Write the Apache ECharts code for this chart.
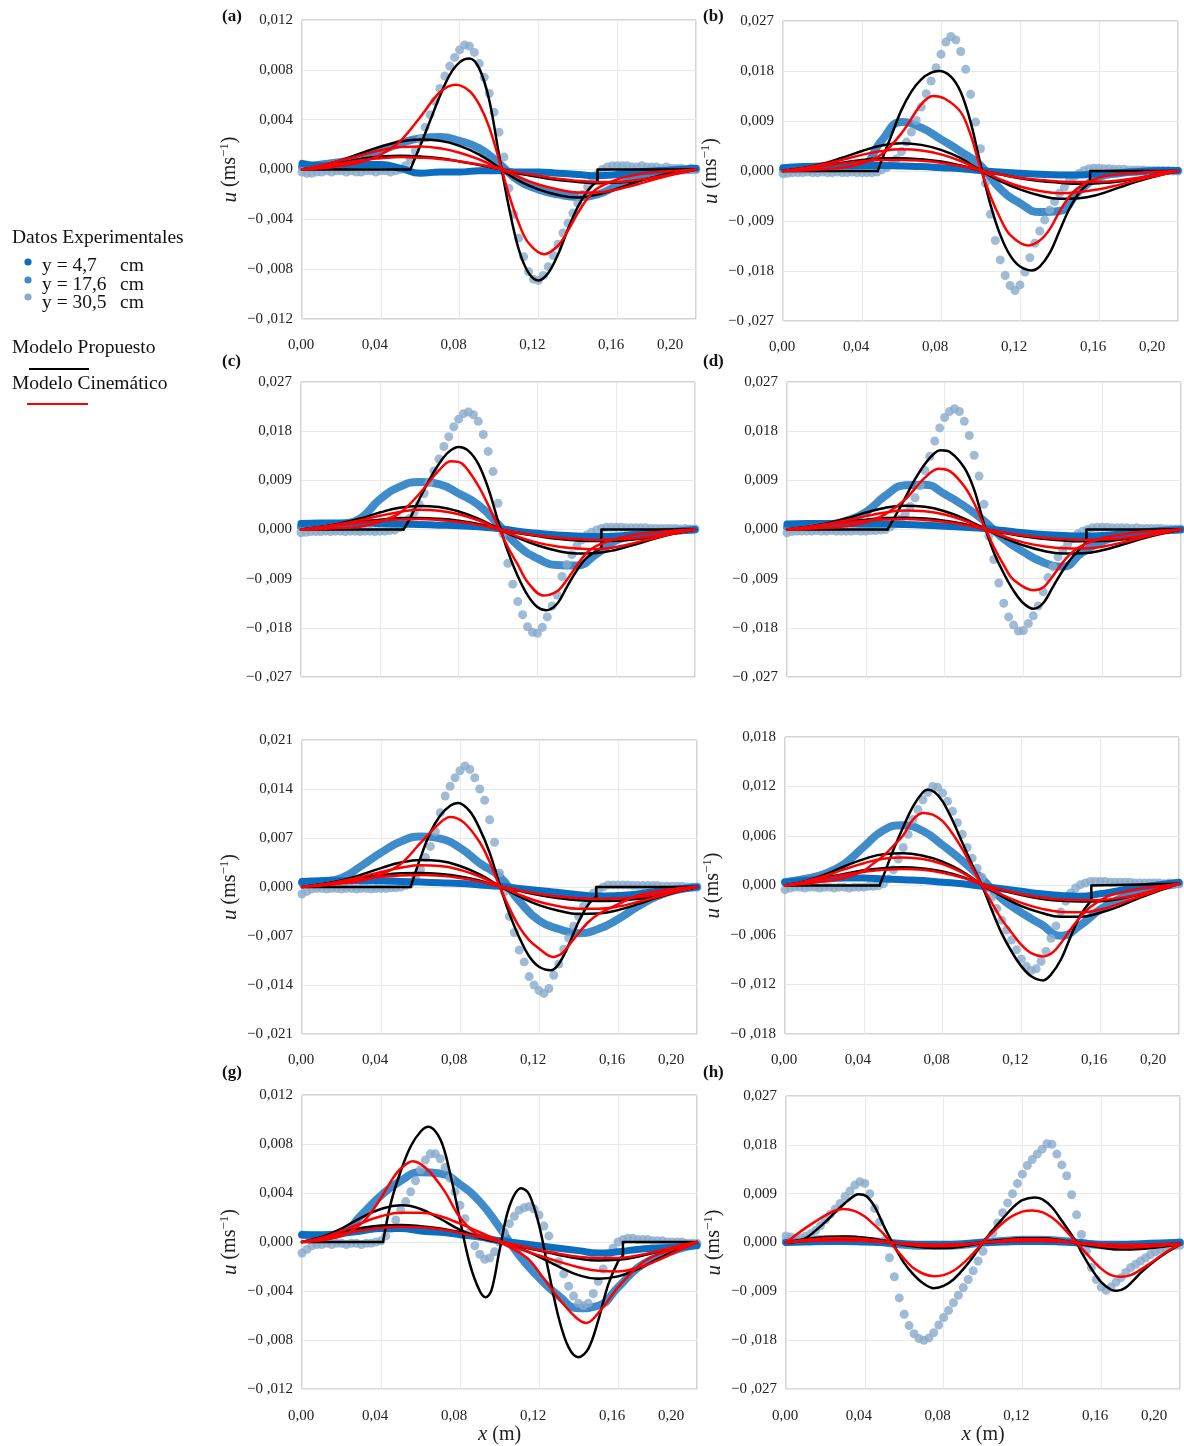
<!DOCTYPE html>
<html><head><meta charset="utf-8">
<script src="https://cdn.jsdelivr.net/npm/echarts@6/dist/echarts.min.js"></script>
<style>html,body{margin:0;padding:0;background:#fff}#c{width:1184px;height:1446px}</style>
</head><body><div id="c"></div>
<script>
// x in cm (labels shown in m), u in 1e-3 m/s (labels shown in m/s)
const XS = [0,0.25,0.5,0.75,1,1.25,1.5,1.75,2,2.25,2.5,2.75,3,3.25,3.5,3.75,4,4.25,4.5,4.75,5,5.25,5.5,5.75,6,6.25,6.5,6.75,7,7.25,7.5,7.75,8,8.25,8.5,8.75,9,9.25,9.5,9.75,10,10.25,10.5,10.75,11,11.25,11.5,11.75,12,12.25,12.5,12.75,13,13.25,13.5,13.75,14,14.25,14.5,14.75,15,15.25,15.5,15.75,16,16.25,16.5,16.75,17,17.25,17.5,17.75,18,18.25,18.5,18.75,19,19.25,19.5,19.75,20];
const XL = [0,1,2,3,4,5,6,7,8,9,10,11,12,13,14,15,16,17,18,19,20];
const PANEL_KEYS = ['a','b','c','d','e','f','g','h'];
const Y_MAX = {a:12,b:27,c:27,d:27,e:21,f:18,g:12,h:27};
const Y_STEP = {a:4,b:9,c:9,d:9,e:7,f:6,g:4,h:9};

// ---------- (a) ----------
const a_y47 = [0.5,0.3,0.3,0.4,0.4,0.1,-0.3,-0.2,-0.2,-0.1,-0.1,-0.2,-0.2,-0.3,-0.4,-0.5,-0.4,-0.2,-0.1,0.0,0.1];
const a_y176 = [0.2,0.4,0.6,0.9,1.5,2.1,2.5,2.6,2.3,1.7,0.5,-0.9,-1.6,-2.0,-2.2,-2.0,-1.3,-0.7,-0.3,-0.1,0.0];
const a_y305 = [-0.2,-0.3,-0.3,-0.2, -0.2,-0.1,-0.2,-0.1, -0.1,-0.2,-0.1,-0.2, -0.2,-0.1,-0.1,-0.2, -0.1,-0.1,-0.2,-0.1,
  0.0,0.3,0.8,1.5, 2.4,3.4,4.4,5.5, 6.5,7.5,8.3,9.0, 9.6,10.0,9.9,9.4, 8.5,7.4,6.1,4.6, 3.0,1.0,-1.5,-3.6,
  -5.5,-7.0,-8.2,-8.8, -8.9,-8.5,-7.8,-6.9, -6.0,-5.1,-4.3,-3.5, -2.7,-2.0,-1.4,-0.9, -0.4,0.0,0.2,0.3,
  0.3,0.3,0.3,0.2, 0.2,0.3,0.2,0.2, 0.2,0.1,0.2,0.1, 0.1,0.1,0.0,0.1, 0.0];
const a_prop305 = [[0,0],[5.5,0],[6.0,1.9],[6.5,3.9],[7.0,5.9],[7.5,7.6],[8.0,8.6],[8.5,8.9],[9.0,8.1],[9.5,5.6],[10.0,1.2],[10.5,-3.0],[11.0,-6.4],[11.5,-8.3],[12.0,-8.9],[12.5,-8.3],[13.0,-6.8],[13.5,-4.8],[14.0,-3.0],[14.5,-1.7],[15.0,-0.9],[15.0,0],[20,0]];
const a_prop176 = [0,0.3,0.75,1.3,1.85,2.25,2.4,2.3,1.9,1.2,0.15,-0.9,-1.6,-2.05,-2.25,-2.0,-1.55,-1.0,-0.55,-0.25,0];
const a_prop47 = [0,0.25,0.55,0.85,1.05,1.1,1.05,0.9,0.65,0.35,0.05,-0.3,-0.6,-0.85,-1.0,-1.1,-1.05,-0.9,-0.6,-0.3,0];
const a_cin305 = [[0,0],[1,0.1],[2,0.3],[3,0.6],[4,1.2],[5,2.3],[6,4.2],[7,6.2],[7.8,6.8],[8.5,6.3],[9,5.2],[9.5,3.4],[10,0.8],[10.5,-2.0],[11,-4.3],[11.5,-5.9],[12.3,-6.8],[13,-6.1],[13.5,-4.9],[14,-3.5],[14.5,-2.3],[15,-1.5],[16,-0.8],[17,-0.4],[18,-0.2],[19,-0.1],[20,0]];
const a_cin176 = [0,0.35,0.75,1.15,1.55,1.8,1.85,1.7,1.35,0.8,0.1,-0.6,-1.2,-1.6,-1.85,-1.85,-1.6,-1.2,-0.75,-0.35,0];
const a_cin47 = [0,0.25,0.5,0.75,0.9,1.0,0.95,0.85,0.65,0.4,0.05,-0.25,-0.5,-0.75,-0.9,-1.0,-1.0,-0.85,-0.6,-0.3,0];

// ---------- (b) ----------
const b_y47 = [0.6,0.8,0.9,1.0,1.0,1.0,0.9,0.8,0.6,0.4,0.1,-0.2,-0.4,-0.6,-0.7,-0.7,-0.5,-0.3,-0.1,0.1,0.1];
const b_y176 = [0.3,0.3,0.4,0.6,1.0,5.5,8.8,7.8,5.7,3.5,1.0,-3.2,-5.8,-7.4,-7.2,-3.6,-1.1,-0.4,-0.1,0.0,0.0];
const b_y305 = [-0.5,-0.4,-0.3,-0.3, -0.3,-0.2,-0.3,-0.3, -0.2,-0.3,-0.3,-0.2, -0.3,-0.3,-0.2,-0.3, -0.3,-0.3,-0.3,-0.2,
  0.2,0.6,1.2,2.2, 3.5,5.2,7.0,9.1, 11.5,13.9,16.2,18.6, 21.0,23.2,24.2,23.6, 21.5,18.3,13.8,8.8, 4.0,-2.2,-7.8,-12.5,
  -16.0,-18.8,-20.6,-21.5, -20.5,-18.2,-15.6,-13.0, -10.8,-8.8,-7.0,-5.5, -4.0,-2.9,-1.8,-1.0, -0.4,0.1,0.4,0.5,
  0.5,0.4,0.4,0.3, 0.3,0.3,0.2,0.2, 0.2,0.2,0.1,0.1, 0.1,0.1,0.1,0.0, 0.0];
const b_prop305 = [[0,0],[4.8,0],[5.0,2.0],[5.5,6.5],[6.0,11.0],[6.5,14.3],[7.0,16.5],[7.5,17.7],[7.9,18.0],[8.5,17.0],[9.0,14.2],[9.5,8.8],[10.0,1.2],[10.5,-6.0],[11.0,-11.5],[11.5,-15.2],[12.0,-17.2],[12.6,-17.9],[13.0,-17.2],[13.5,-14.8],[14.0,-10.8],[14.5,-6.8],[15.0,-3.9],[15.55,-2.0],[15.55,0],[20,0]];
const b_prop176 = [0,0.5,1.3,2.4,3.6,4.6,5.0,4.7,3.8,2.3,0.1,-1.8,-3.3,-4.4,-5.0,-4.9,-4.2,-3.0,-1.8,-0.8,0];
const b_prop47 = [0,0.5,1.0,1.5,2.0,2.3,2.3,2.1,1.7,1.0,0.1,-0.6,-1.3,-1.8,-2.1,-2.3,-2.2,-1.9,-1.3,-0.6,0];
const b_cin305 = [[0,0],[1,0.1],[2,0.3],[3,0.6],[4,1.4],[5,3.0],[6,6.8],[7,12.0],[7.6,13.5],[8.2,13.0],[9,10.6],[9.5,6.5],[10,0.5],[10.5,-4.5],[11,-8.5],[11.5,-11.5],[12.4,-13.4],[13,-12.5],[13.5,-10.5],[14,-7.3],[14.5,-4.6],[15,-2.9],[16,-1.2],[17,-0.6],[18,-0.3],[19,-0.1],[20,0]];
const b_cin176 = [0,0.5,1.2,2.0,2.9,3.6,3.9,3.7,3.0,1.8,0.1,-1.5,-2.8,-3.6,-4.0,-3.8,-3.3,-2.5,-1.6,-0.8,0];
const b_cin47 = [0,0.45,0.9,1.35,1.75,2.0,2.0,1.85,1.5,0.9,0.1,-0.6,-1.2,-1.6,-1.9,-2.0,-1.95,-1.7,-1.2,-0.6,0];

// ---------- (c) ----------
const c_y47 = [1.1,1.2,1.2,1.2,1.1,1.0,0.9,0.8,0.7,0.5,0.2,-0.3,-0.7,-1.0,-1.2,-1.3,-1.2,-0.9,-0.6,-0.3,0.0];
const c_y176 = [0.5,0.7,1.0,2.0,5.5,7.8,8.7,8.3,6.6,4.5,1.0,-2.9,-5.3,-6.5,-6.6,-4.5,-2.0,-1.1,-0.5,-0.2,0.0];
const c_y305 = [-0.6,-0.5,-0.4,-0.4, -0.4,-0.3,-0.4,-0.3, -0.3,-0.4,-0.3,-0.3, -0.4,-0.3,-0.3,-0.4, -0.3,-0.3,-0.2,-0.1,
  0.3,1.0,2.0,3.2, 4.6,6.6,8.6,10.7, 12.9,15.2,17.0,18.8, 20.2,21.2,21.5,21.0, 19.8,17.4,14.3,10.6, 4.8,-0.8,-6.2,-10.0,
  -13.2,-15.6,-17.8,-18.8, -19.0,-17.9,-16.0,-14.0, -12.0,-8.6,-6.4,-4.6, -3.0,-1.9,-1.0,-0.5, -0.1,0.2,0.4,0.4,
  0.4,0.4,0.3,0.3, 0.3,0.3,0.3,0.2, 0.2,0.2,0.2,0.2, 0.2,0.1,0.2,0.1, 0.1];
const c_prop305 = [[0,0],[5.2,0],[5.5,1.8],[6.0,5.5],[6.5,9.0],[7.0,12.0],[7.5,14.2],[8.0,15.1],[8.5,14.4],[9.0,12.0],[9.5,7.6],[10.0,1.6],[10.5,-4.0],[11.0,-8.5],[11.5,-12.0],[12.0,-14.2],[12.45,-14.8],[13.0,-13.6],[13.5,-10.5],[14.0,-7.5],[14.5,-5.2],[15.25,-3.4],[15.25,0],[20,0]];
const c_prop176 = [0,0.4,1.1,2.0,3.1,4.0,4.3,4.1,3.3,2.0,0.2,-1.5,-2.9,-3.9,-4.4,-4.3,-3.7,-2.7,-1.6,-0.7,0];
const c_prop47 = [0,0.45,0.95,1.4,1.8,2.1,2.1,1.95,1.6,1.0,0.1,-0.6,-1.2,-1.7,-2.0,-2.1,-2.05,-1.8,-1.3,-0.6,0];
const c_cin305 = [[0,0],[1,0.1],[2,0.3],[3,0.5],[4,1.4],[5,3.0],[6,6.5],[7,10.8],[7.6,12.5],[8.2,12.0],[9,8.0],[9.5,4.5],[10,0.6],[10.5,-3.2],[11,-6.4],[11.5,-9.6],[12.3,-12.1],[13,-11.3],[13.5,-9.2],[14,-6.6],[14.5,-4.3],[15,-3.0],[16,-1.7],[17,-0.9],[18,-0.5],[19,-0.2],[20,0]];
const c_cin176 = [0,0.45,1.0,1.7,2.5,3.2,3.6,3.45,2.8,1.7,0.15,-1.3,-2.4,-3.1,-3.5,-3.6,-3.2,-2.4,-1.5,-0.7,0];
const c_cin47 = [0,0.4,0.85,1.25,1.6,1.85,1.9,1.75,1.4,0.85,0.1,-0.55,-1.1,-1.5,-1.75,-1.9,-1.85,-1.6,-1.15,-0.55,0];

// ---------- (d) ----------
const d_y47 = [1.0,1.1,1.1,1.1,1.0,1.0,0.9,0.8,0.6,0.4,0.2,-0.2,-0.6,-0.9,-1.1,-1.2,-1.1,-0.8,-0.5,-0.2,0.0];
const d_y176 = [0.4,0.5,0.8,1.6,3.2,6.2,8.1,8.2,6.5,4.3,1.6,-1.7,-4.1,-6.0,-6.8,-4.2,-2.2,-1.2,-0.6,-0.2,0.0];
const d_y305 = [-0.6,-0.4,-0.3,-0.3, -0.3,-0.3,-0.2,-0.3, -0.3,-0.2,-0.3,-0.3, -0.3,-0.3,-0.2,-0.3, -0.3,-0.2,-0.2,-0.1,
  0.0,0.5,1.0,1.9, 2.9,4.2,5.8,8.0, 10.8,13.4,16.2,18.6, 20.5,21.6,22.1,21.6, 19.8,17.2,13.6,9.8, 4.6,-1.2,-5.5,-9.8,
  -13.5,-16.0,-17.5,-18.6, -18.5,-17.2,-15.8,-14.0, -11.4,-8.8,-6.8,-5.0, -3.7,-2.7,-1.7,-0.8, -0.3,0.0,0.3,0.4,
  0.4,0.4,0.3,0.3, 0.3,0.3,0.2,0.3, 0.2,0.2,0.2,0.2, 0.2,0.1,0.1,0.1, 0.1];
const d_prop305 = [[0,0],[5.1,0],[5.5,2.5],[6.0,5.8],[6.5,9.2],[7.0,12.0],[7.5,14.0],[7.8,14.5],[8.3,14.1],[9.0,11.3],[9.5,7.3],[10.0,1.0],[10.5,-4.2],[11.0,-8.0],[11.5,-11.2],[12.0,-13.5],[12.5,-14.5],[13.0,-13.5],[13.5,-10.5],[14.0,-7.5],[14.5,-5.0],[15.2,-2.3],[15.2,0],[20,0]];
const d_prop176 = [0,0.4,1.1,2.0,3.1,4.0,4.35,4.15,3.35,2.0,0.2,-1.5,-2.9,-3.9,-4.4,-4.35,-3.8,-2.8,-1.7,-0.8,0];
const d_prop47 = [0,0.45,0.95,1.4,1.8,2.1,2.15,2.0,1.6,1.0,0.1,-0.6,-1.25,-1.7,-2.0,-2.15,-2.1,-1.85,-1.35,-0.65,0];
const d_cin305 = [[0,0],[1,0.1],[2,0.3],[3,0.6],[4,1.3],[5,2.8],[6,5.5],[7,9.5],[7.7,11.1],[8.3,10.6],[9,7.9],[9.5,4.8],[10,0.7],[10.5,-3.2],[11,-6.5],[11.5,-9.2],[12.5,-11.1],[13,-10.6],[13.5,-8.5],[14,-6.0],[14.5,-4.1],[15,-2.9],[16,-1.6],[17,-0.9],[18,-0.4],[19,-0.2],[20,0]];
const d_cin176 = [0,0.45,1.0,1.65,2.45,3.1,3.5,3.35,2.75,1.65,0.15,-1.25,-2.35,-3.05,-3.45,-3.5,-3.15,-2.4,-1.5,-0.7,0];
const d_cin47 = [0,0.4,0.85,1.25,1.6,1.85,1.9,1.75,1.4,0.85,0.1,-0.55,-1.1,-1.5,-1.75,-1.9,-1.85,-1.6,-1.15,-0.55,0];

// ---------- (e) ----------
const e_y47 = [0.8,0.9,0.9,0.9,0.9,0.8,0.7,0.6,0.5,0.3,0.1,-0.2,-0.5,-0.8,-1.1,-1.3,-1.2,-1.0,-0.6,-0.3,0.0];
const e_y176 = [0.6,0.8,1.3,3.0,4.9,6.5,7.2,6.9,5.6,3.4,1.5,-2.0,-4.8,-6.0,-6.6,-6.0,-4.6,-2.8,-1.3,-0.4,0.0];
const e_y305 = [-1.0,-0.6,-0.3,-0.2, -0.2,-0.3,-0.2,-0.2, -0.3,-0.2,-0.2,-0.3, -0.2,-0.2,-0.3,-0.2, -0.2,-0.2,-0.1,-0.1,
  0.0,0.2,0.5,1.3, 2.5,4.2,5.8,7.9, 10.6,13.0,14.4,15.6, 16.6,17.3,16.8,15.6, 14.0,12.4,9.6,6.4, 2.0,-0.7,-4.2,-6.5,
  -9.0,-10.7,-12.8,-14.0, -14.8,-15.2,-14.5,-12.6, -11.0,-8.9,-7.3,-5.6, -4.2,-2.8,-1.8,-0.9, -0.4,0.0,0.3,0.3,
  0.3,0.3,0.3,0.2, 0.2,0.2,0.2,0.2, 0.2,0.1,0.1,0.1, 0.1,0.1,0.0,0.0, 0.0];
const e_prop305 = [[0,0],[5.5,0],[6.0,4.2],[6.5,7.8],[7.0,10.2],[7.5,11.6],[7.9,12.0],[8.5,10.8],[9.0,8.3],[9.5,4.9],[10.0,0.4],[10.5,-3.8],[11.0,-7.2],[11.5,-9.9],[12.0,-11.4],[12.6,-11.9],[13.0,-11.0],[13.5,-8.3],[14.0,-5.0],[14.5,-2.5],[14.9,-1.4],[14.9,0],[20,0]];
const e_prop176 = [0,0.35,0.95,1.75,2.7,3.5,3.85,3.7,3.0,1.8,0.15,-1.35,-2.6,-3.4,-3.85,-3.8,-3.3,-2.45,-1.5,-0.7,0];
const e_prop47 = [0,0.4,0.85,1.3,1.7,1.95,2.0,1.85,1.5,0.9,0.1,-0.55,-1.15,-1.6,-1.9,-2.0,-1.95,-1.7,-1.25,-0.6,0];
const e_cin305 = [[0,0],[1,0.2],[2,0.5],[3,0.9],[4,1.8],[5,3.3],[6,6.3],[7,9.2],[7.5,10.0],[8.2,9.2],[9,6.4],[9.5,3.6],[10,0.1],[10.5,-3.0],[11,-5.7],[11.5,-7.6],[12,-8.8],[12.7,-10.0],[13.2,-9.4],[13.6,-8.0],[14,-6.6],[14.5,-5.0],[15,-3.9],[15.6,-3.0],[16.5,-1.8],[17,-1.2],[18,-0.6],[19,-0.2],[20,0]];
const e_cin176 = [0,0.35,0.85,1.45,2.15,2.75,3.1,3.0,2.45,1.5,0.15,-1.1,-2.1,-2.75,-3.1,-3.1,-2.8,-2.15,-1.4,-0.65,0];
const e_cin47 = [0,0.35,0.75,1.1,1.45,1.65,1.7,1.6,1.3,0.8,0.1,-0.5,-1.0,-1.35,-1.6,-1.7,-1.65,-1.45,-1.05,-0.5,0];

// ---------- (f) ----------
const f_y47 = [0.4,0.6,0.8,0.9,0.9,0.8,0.7,0.6,0.4,0.2,-0.1,-0.4,-0.7,-1.0,-1.2,-1.3,-1.0,-0.6,-0.2,0.1,0.4];
const f_y176 = [0.4,0.8,1.4,2.6,4.7,6.7,7.3,6.6,4.9,3.0,0.8,-1.6,-3.3,-4.7,-6.1,-4.8,-2.9,-1.6,-0.7,-0.2,0.2];
const f_y305 = [-0.5,-0.3,-0.2,-0.2, -0.3,-0.2,-0.2,-0.3, -0.2,-0.2,-0.3,-0.2, -0.2,-0.3,-0.2,-0.2, -0.2,-0.1,-0.1,0.0,
  0.2,0.8,1.9,3.2, 4.6,6.2,8.0,9.2, 10.4,11.3,12.0,11.9, 11.2,10.2,9.0,7.6, 6.2,4.6,3.3,2.1, 1.0,-0.3,-1.4,-2.8,
  -4.2,-5.4,-6.6,-7.8, -8.9,-9.8,-10.3,-10.1, -9.2,-8.0,-6.4,-4.9, -3.2,-1.9,-0.9,-0.3, 0.1,0.3,0.5,0.5,
  0.5,0.5,0.4,0.4, 0.4,0.4,0.4,0.3, 0.3,0.3,0.3,0.3, 0.3,0.2,0.3,0.2, 0.2];
const f_prop305 = [[0,0],[4.8,0],[5.0,1.2],[5.5,4.3],[6.0,7.1],[6.5,9.6],[7.0,11.3],[7.25,11.6],[7.6,11.3],[8.0,10.2],[8.5,7.9],[9.0,5.2],[9.5,2.5],[10.0,0],[10.5,-3.0],[11.0,-5.8],[11.5,-8.0],[12.0,-9.8],[12.5,-11.0],[13.1,-11.5],[13.5,-10.8],[14.0,-9.0],[14.5,-6.2],[15.0,-3.6],[15.55,-1.8],[15.55,0],[20,0.2]];
const f_prop176 = [0,0.5,1.3,2.3,3.2,3.8,3.9,3.6,2.9,1.7,0.1,-1.3,-2.5,-3.3,-3.8,-3.8,-3.3,-2.5,-1.5,-0.6,0.2];
const f_prop47 = [0,0.45,0.95,1.4,1.85,2.1,2.2,2.05,1.7,1.05,0.15,-0.55,-1.15,-1.6,-1.85,-1.95,-1.9,-1.6,-1.1,-0.45,0.2];
const f_cin305 = [[0,0],[1,0.2],[2,0.5],[3,0.9],[4,1.8],[4.5,2.7],[5,3.6],[5.5,4.8],[6,6.1],[6.5,8.0],[7.0,8.8],[7.5,8.6],[8,7.8],[8.5,6.3],[9,4.4],[9.5,2.2],[10,0],[10.5,-2.1],[11,-4.1],[11.5,-5.7],[12,-7.2],[12.5,-8.2],[13.1,-8.6],[13.6,-8.1],[14,-7.0],[14.5,-5.3],[15,-3.8],[15.5,-2.6],[16.3,-1.4],[17,-0.9],[18,-0.4],[19,-0.1],[20,0.2]];
const f_cin176 = [0,0.5,1.15,1.95,2.7,3.25,3.4,3.2,2.6,1.55,0.1,-1.1,-2.1,-2.8,-3.2,-3.25,-2.9,-2.2,-1.35,-0.55,0.2];
const f_cin47 = [0,0.4,0.85,1.3,1.65,1.9,2.0,1.9,1.55,0.95,0.15,-0.5,-1.05,-1.45,-1.7,-1.8,-1.75,-1.5,-1.05,-0.4,0.2];

// ---------- (g) ----------
const g_y47 = [0.6,0.6,0.7,0.9,1.1,1.1,0.9,0.8,0.6,0.4,0.1,-0.1,-0.3,-0.5,-0.7,-0.9,-0.8,-0.6,-0.5,-0.4,-0.3];
const g_y176 = [0.6,0.5,0.7,2.2,3.8,5.0,5.7,5.6,4.7,3.3,1.2,-1.1,-2.9,-4.4,-5.4,-5.2,-3.7,-2.1,-1.2,-0.6,-0.2];
const g_y305 = [-0.9,-0.6,-0.3,-0.2, -0.2,-0.1,-0.2,-0.1, -0.1,-0.2,-0.1,-0.1, -0.2,-0.1,-0.1,0.0, 0.1,0.5,1.1,1.8,
  2.6,3.3,4.1,5.0, 5.9,6.7,7.2,7.2, 6.8,6.1,5.2,4.1, 3.0,1.9,0.8,-0.3, -1.0,-1.4,-1.3,-0.8, 0.0,0.8,1.5,2.1,
  2.6,2.8,2.9,2.7, 2.2,1.3,0.5,-0.6, -1.6,-2.6,-3.6,-4.4, -5.0,-5.2,-5.0,-4.2, -3.2,-2.2,-1.2,-0.5,
  0.0,0.2,0.3,0.3, 0.2,0.2,0.2,0.1, 0.1,0.1,0.0,0.0, 0.0,0.0,-0.1,-0.1, -0.1];
const g_prop305 = [[0,0],[4.1,0],[4.5,3.2],[5.0,5.8],[5.5,7.8],[6.0,9.0],[6.4,9.4],[7.0,8.4],[7.5,5.6],[8.0,1.8],[8.5,-1.8],[9.0,-4.0],[9.3,-4.5],[9.6,-3.9],[10.0,-0.7],[10.5,2.9],[11.1,4.4],[11.5,3.9],[12.0,1.4],[12.5,-2.5],[13.0,-6.2],[13.5,-8.6],[14.0,-9.4],[14.5,-8.7],[15.0,-6.4],[15.5,-3.5],[16.0,-1.6],[16.25,-1.1],[16.25,0],[20,0]];
const g_prop176 = [0,0.4,1.1,2.0,2.7,3.0,2.7,1.9,1.0,0.35,0.0,-0.5,-1.2,-2.0,-2.7,-3.0,-2.8,-2.2,-1.4,-0.6,0];
const g_prop47 = [0,0.4,0.8,1.15,1.35,1.4,1.3,1.1,0.8,0.4,0.05,-0.35,-0.7,-1.05,-1.35,-1.5,-1.45,-1.2,-0.8,-0.4,0];
const g_cin305 = [[0,0],[1,0.15],[2,0.5],[3,1.5],[3.8,3.1],[4.6,5.2],[5.0,6.0],[5.6,6.6],[6.3,6.0],[7.2,4.2],[8.0,2.0],[8.9,0.6],[10.0,0],[11.4,-1.3],[12.2,-2.9],[13.1,-4.8],[13.9,-6.2],[14.4,-6.6],[15.1,-5.6],[16.1,-3.5],[17.3,-1.6],[18.2,-0.9],[19.0,-0.5],[20,0]];
const g_cin176 = [0,0.35,0.9,1.55,2.1,2.4,2.4,2.1,1.5,0.8,0.1,-0.55,-1.1,-1.6,-2.05,-2.35,-2.4,-2.1,-1.5,-0.75,0];
const g_cin47 = [0,0.3,0.65,0.95,1.15,1.25,1.2,1.05,0.75,0.4,0.05,-0.3,-0.65,-0.95,-1.2,-1.3,-1.3,-1.1,-0.75,-0.35,0];

// ---------- (h) ----------
const h_y47 = [0.0,0.1,0.2,0.2,0.1,0.0,-0.2,-0.3,-0.3,-0.2,0.0,0.1,0.2,0.2,0.1,-0.1,-0.3,-0.3,-0.2,-0.1,0.0];
const h_y176 = [0.2,0.4,0.6,0.6,0.4,0.0,-0.4,-0.6,-0.6,-0.4,0.0,0.3,0.5,0.5,0.3,-0.1,-0.5,-0.6,-0.5,-0.3,0.0];
const h_y305 = [1.2,1.0,0.8,0.9, 1.2,1.6,2.2,3.1, 4.2,5.2,6.2,7.2, 8.5,9.5,10.6,11.2, 10.9,9.0,6.3,3.8,
  0.4,-2.8,-6.3,-10.2, -13.2,-15.3,-16.8,-17.7, -18.0,-17.6,-16.6,-15.2, -13.8,-12.5,-11.1,-9.7, -8.3,-6.8,-5.2,-3.4, -1.6,0.1,1.7,3.6,
  5.5,7.3,9.0,10.9, 12.6,14.2,15.3,16.3, 17.2,18.2,18.1,16.3, 14.3,12.3,8.8,5.1, 1.5,-1.6,-4.6,-6.8,
  -8.2,-8.8,-8.2,-7.3, -6.5,-5.5,-4.6,-4.0, -3.4,-2.8,-2.2,-1.7, -1.3,-1.0,-0.8,-0.6, -0.5];
const h_prop305 = [[0,0],[0.5,0.15],[1.0,0.8],[1.5,2.2],[2.0,3.8],[2.5,5.6],[3.0,7.3],[3.5,8.7],[3.7,8.9],[4.1,8.5],[4.5,6.6],[5.0,2.8],[5.4,0],[6.0,-3.8],[6.5,-6.0],[7.0,-7.6],[7.5,-8.4],[8.0,-8.0],[8.5,-6.8],[9.0,-4.9],[9.5,-2.6],[10.0,0],[10.5,2.3],[11.0,4.4],[11.5,6.4],[12.0,7.8],[12.6,8.3],[13.0,8.0],[13.5,6.5],[14.0,4.0],[14.75,0],[15.0,-1.8],[15.5,-4.8],[16.0,-7.3],[16.5,-8.7],[16.8,-8.9],[17.2,-8.4],[17.6,-7.1],[18.0,-5.6],[18.5,-4.0],[19.0,-2.6],[19.5,-1.4],[19.75,-0.9],[20,-0.4]];
const h_prop176 = [0,0.6,1.0,1.1,0.9,0.3,-0.4,-0.9,-1.0,-0.7,0,0.5,0.8,0.8,0.4,-0.3,-0.9,-1.3,-1.2,-0.8,-0.3];
const h_prop47 = [0,0.3,0.5,0.5,0.4,0.1,-0.2,-0.4,-0.5,-0.3,0,0.2,0.35,0.35,0.2,-0.1,-0.35,-0.5,-0.5,-0.35,-0.2];
const h_cin305 = [[0,0],[0.5,1.4],[1.0,2.7],[1.5,3.9],[2.0,5.0],[2.5,5.9],[2.9,6.2],[3.5,5.8],[4.0,4.8],[4.5,3.2],[5.0,1.4],[5.3,0],[6.0,-3.0],[6.5,-4.8],[7.0,-5.8],[7.5,-6.2],[8.0,-6.0],[8.5,-5.2],[9.0,-3.8],[9.5,-2.0],[10.0,0],[10.5,1.9],[11.0,3.6],[11.5,4.9],[12.0,5.7],[12.5,5.9],[13.0,5.6],[13.5,4.6],[14.0,3.0],[14.5,1.0],[14.75,0],[15.5,-3.0],[16.0,-4.8],[16.5,-6.0],[17.0,-6.3],[17.5,-6.0],[18.0,-5.0],[18.5,-3.8],[19.0,-2.5],[19.5,-1.3],[20,-0.4]];
const h_cin176 = [0,0.5,0.8,0.85,0.65,0.2,-0.3,-0.65,-0.7,-0.5,0,0.4,0.65,0.65,0.35,-0.2,-0.65,-0.9,-0.85,-0.6,-0.3];
const h_cin47 = [0,0.25,0.4,0.4,0.3,0.05,-0.15,-0.3,-0.35,-0.25,0,0.15,0.3,0.3,0.15,-0.1,-0.3,-0.4,-0.4,-0.3,-0.2];

const DATA = {
  a:{dk:a_y47, md:a_y176, lt:a_y305, p3:a_prop305, p2:a_prop176, p1:a_prop47, c3:a_cin305, c2:a_cin176, c1:a_cin47},
  b:{dk:b_y47, md:b_y176, lt:b_y305, p3:b_prop305, p2:b_prop176, p1:b_prop47, c3:b_cin305, c2:b_cin176, c1:b_cin47},
  c:{dk:c_y47, md:c_y176, lt:c_y305, p3:c_prop305, p2:c_prop176, p1:c_prop47, c3:c_cin305, c2:c_cin176, c1:c_cin47},
  d:{dk:d_y47, md:d_y176, lt:d_y305, p3:d_prop305, p2:d_prop176, p1:d_prop47, c3:d_cin305, c2:d_cin176, c1:d_cin47},
  e:{dk:e_y47, md:e_y176, lt:e_y305, p3:e_prop305, p2:e_prop176, p1:e_prop47, c3:e_cin305, c2:e_cin176, c1:e_cin47},
  f:{dk:f_y47, md:f_y176, lt:f_y305, p3:f_prop305, p2:f_prop176, p1:f_prop47, c3:f_cin305, c2:f_cin176, c1:f_cin47},
  g:{dk:g_y47, md:g_y176, lt:g_y305, p3:g_prop305, p2:g_prop176, p1:g_prop47, c3:g_cin305, c2:g_cin176, c1:g_cin47},
  h:{dk:h_y47, md:h_y176, lt:h_y305, p3:h_prop305, p2:h_prop176, p1:h_prop47, c3:h_cin305, c2:h_cin176, c1:h_cin47}
};

// ---------- layout & style ----------
const LAYOUT = {a:[302,20,394,299], b:[783,21,395,300], c:[301,382,394,295], d:[787,382,394,295],
                e:[302,740,395,294], f:[785,737,394,297], g:[302,1095,395,295], h:[786,1096,394,294]};
const SHOW_XLABEL = {a:1,b:1,c:0,d:0,e:1,f:1,g:1,h:1};
const SHOW_YNAME = {a:1,b:1,c:0,d:0,e:1,f:1,g:1,h:1};
const SHOW_XNAME = {g:1,h:1};
const COL_DK = '#0b6dbf', COL_MD = '#408cca', COL_LT = '#88aacb';
const SERIF = 'Liberation Serif';
const LW = 2.5;

const chart = echarts.init(document.getElementById('c'));
const grids = [], xAxes = [], yAxes = [], series = [];

function xFmt(v){
  const n = Math.round(v);
  const s = '0,' + String(n).padStart(2,'0');
  if (n === 0) return '{z|' + s + '}';
  if (n === 20) return '{e|' + s + '}';
  return '{m|' + s + '}';
}
function yFmt(v){
  const n = Math.round(Math.abs(v));
  const d = String(n).padStart(3,'0');
  if (v < -1e-9) return '\u22120 ,' + d;
  return '0,' + d;
}
function ln(data, i, color, width, smooth, z){
  return {type:'line', xAxisIndex:i, yAxisIndex:i, data, symbol:'none', smooth: smooth,
          lineStyle:{color, width, cap:'round', join:'round'}, z, silent:true, animation:false};
}
const onXL = arr => XL.map((x,j)=>[x, arr[j]]);
const onXS = arr => XS.map((x,j)=>[x, arr[j]]);

PANEL_KEYS.forEach((k,i)=>{
  const [l,t,w,h] = LAYOUT[k];
  const D = DATA[k];
  grids.push({left:l, top:t, width:w, height:h, show:true, borderColor:'#a8a8a8', borderWidth:1, containLabel:false});
  const lbl = {fontFamily:SERIF, fontSize:15, color:'#222'};
  xAxes.push({type:'value', gridIndex:i, min:0, max:20, interval:4,
    axisLine:{show:false}, axisTick:{show:false},
    splitLine:{show:true, lineStyle:{color:'#e9e9e9', width:1}},
    axisLabel:{show:!!SHOW_XLABEL[k], formatter:xFmt, margin:19, ...lbl,
      rich:{z:{...lbl, padding:[0,2,0,0]}, m:{...lbl, padding:[0,12,0,0]}, e:{...lbl, padding:[0,52,0,0]}}},
    name: SHOW_XNAME[k] ? '{i|x}{n| (m)}' : '', nameLocation:'middle', nameGap:31,
    nameTextStyle:{fontFamily:SERIF, fontSize:20, color:'#222',
      rich:{i:{fontFamily:SERIF, fontStyle:'italic', fontSize:21, color:'#222'}, n:{fontFamily:SERIF, fontSize:20, color:'#222'}}}
  });
  yAxes.push({type:'value', gridIndex:i, min:-Y_MAX[k], max:Y_MAX[k], interval:Y_STEP[k],
    axisLine:{show:false}, axisTick:{show:false},
    splitLine:{show:true, lineStyle:{color:'#e9e9e9', width:1}},
    axisLabel:{formatter:yFmt, margin:9, ...lbl},
    name: SHOW_YNAME[k] ? '{i|u}{n| (ms}{s|\u22121}{n|)}' : '', nameLocation:'middle', nameGap:60, nameRotate:90,
    nameTextStyle:{fontFamily:SERIF, fontSize:20, color:'#222',
      rich:{i:{fontFamily:SERIF, fontStyle:'italic', fontSize:21, color:'#222', lineHeight:24},
            n:{fontFamily:SERIF, fontSize:20, color:'#222', lineHeight:24},
            s:{fontFamily:SERIF, fontSize:13, color:'#222', lineHeight:12, verticalAlign:'top'}}}
  });
  // experimental data
  series.push(ln(onXL(D.md), i, COL_MD, 8, 0.5, 1));
  series.push({type:'scatter', xAxisIndex:i, yAxisIndex:i, data:onXS(D.lt), symbol:'circle', symbolSize:9,
               itemStyle:{color:COL_LT}, z:2, silent:true, animation:false});
  series.push(ln(onXL(D.dk), i, COL_DK, 7, 0.5, 3));
  // proposed model (black)
  const p = D.p3, n = p.length;
  series.push(ln(p.slice(0,2), i, '#000', LW, false, 4));
  series.push(ln(p.slice(1,n-2), i, '#000', LW, 0.35, 4));
  series.push(ln(p.slice(n-3), i, '#000', LW, false, 4));
  series.push(ln(onXL(D.p2), i, '#000', LW, 0.45, 4));
  series.push(ln(onXL(D.p1), i, '#000', LW, 0.45, 4));
  // kinematic model (red)
  series.push(ln(D.c3, i, '#ff0000', LW, 0.35, 5));
  series.push(ln(onXL(D.c2), i, '#ff0000', LW, 0.45, 5));
  series.push(ln(onXL(D.c1), i, '#ff0000', LW, 0.45, 5));
});

const PANEL_LABELS = [['(a)',222,17],['(b)',703,17],['(c)',222,362],['(d)',703,362],['(g)',222,1073],['(h)',703,1073]];
const graphic = PANEL_LABELS.map(([t,x,y])=>({type:'text', x, y, style:{text:t, fontFamily:SERIF, fontWeight:'bold', fontSize:17, fill:'#111', verticalAlign:'middle'}}));
const txt = (t,x,y,size)=>({type:'text', x, y, style:{text:t, fontFamily:SERIF, fontSize:size, fill:'#111', verticalAlign:'middle'}});
graphic.push(
  txt('Datos Experimentales',12,238,19.5),
  {type:'circle', shape:{cx:28, cy:262, r:3.6}, style:{fill:COL_DK}},
  {type:'circle', shape:{cx:28, cy:280, r:3.6}, style:{fill:COL_MD}},
  {type:'circle', shape:{cx:28, cy:297, r:3.6}, style:{fill:COL_LT}},
  txt('y = 4,7',42,266,19.5), txt('cm',120,266,19.5),
  txt('y = 17,6',42,285,19.5), txt('cm',120,285,19.5),
  txt('y = 30,5',42,303,19.5), txt('cm',120,303,19.5),
  txt('Modelo Propuesto',12,348,19.5),
  {type:'line', shape:{x1:29,y1:369,x2:89,y2:369}, style:{stroke:'#000', lineWidth:2}},
  txt('Modelo Cinemático',12,384,19.5),
  {type:'line', shape:{x1:27,y1:404,x2:88,y2:404}, style:{stroke:'#ff0000', lineWidth:2}}
);

chart.setOption({animation:false, backgroundColor:'#fff', grid:grids, xAxis:xAxes, yAxis:yAxes, series, graphic});
</script></body></html>
